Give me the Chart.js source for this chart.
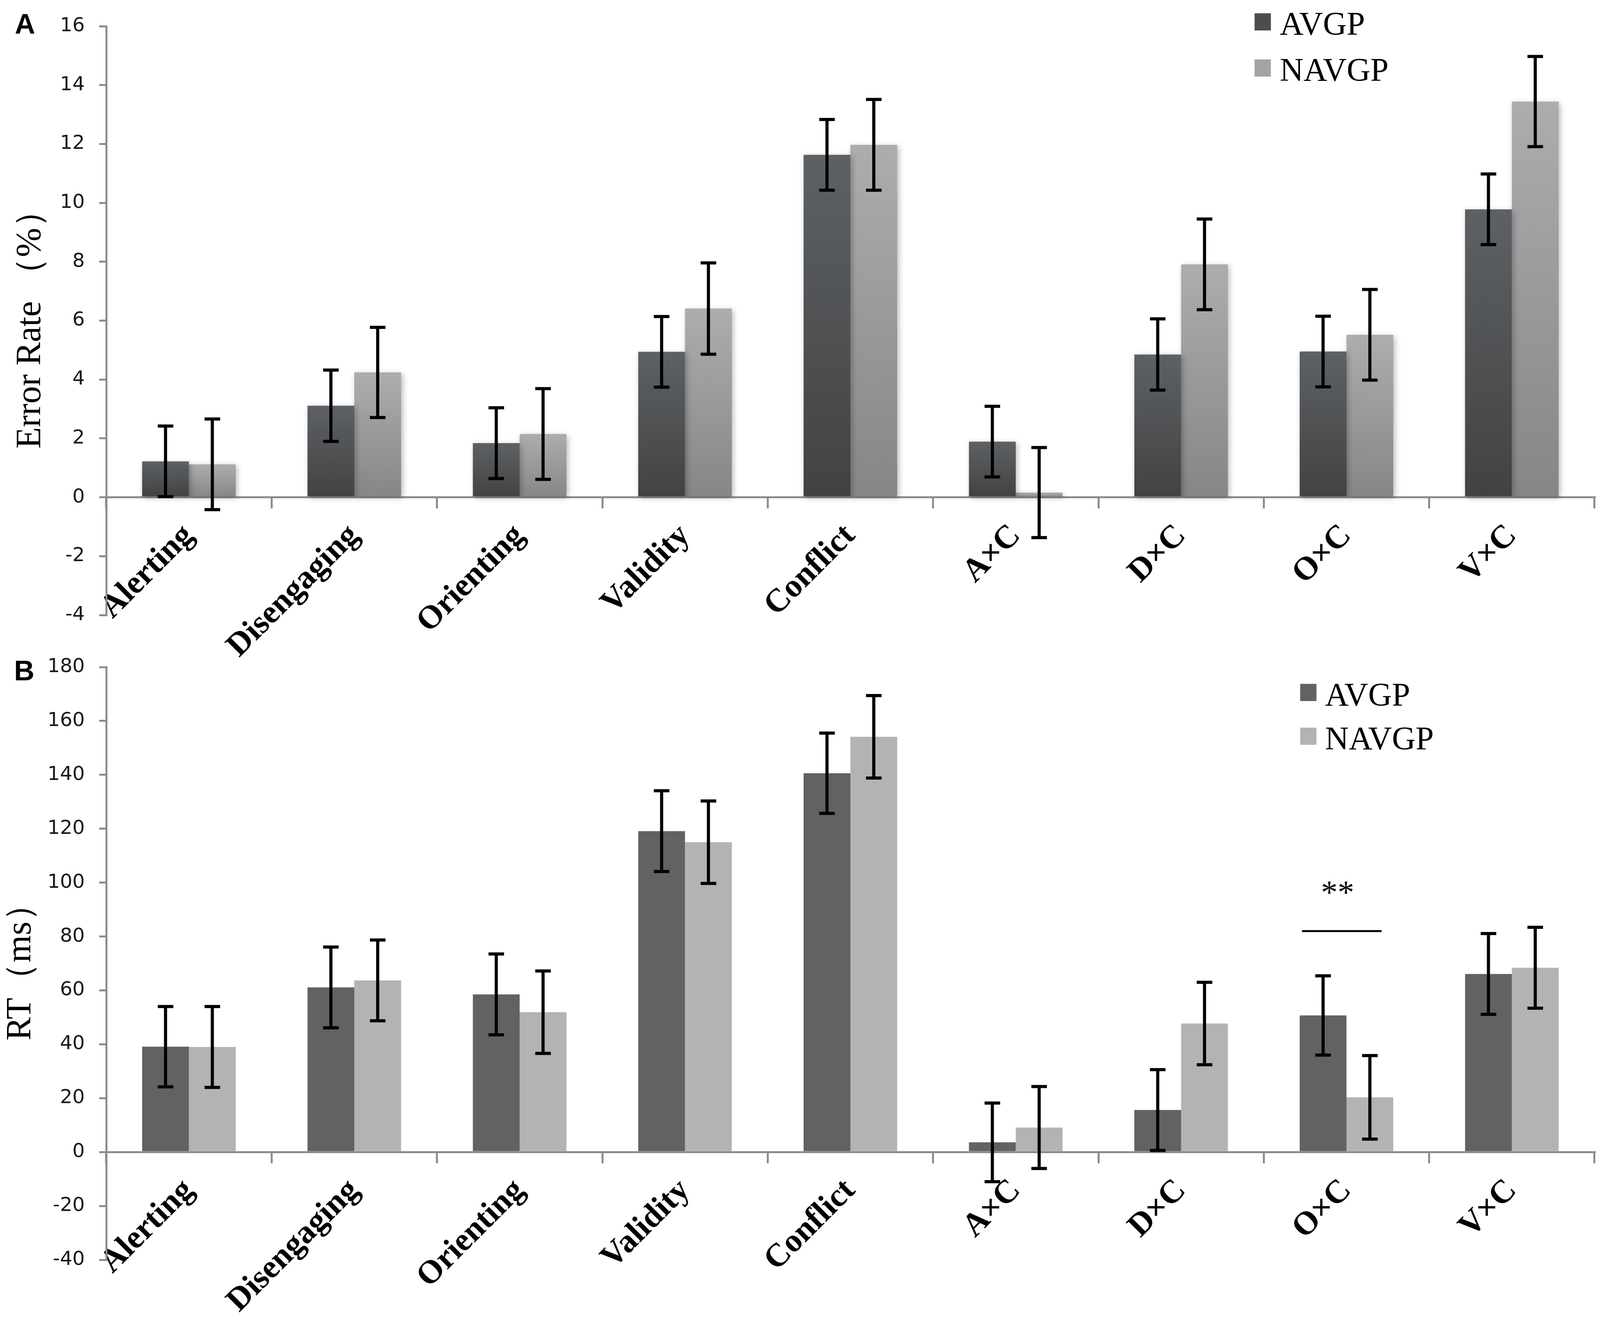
<!DOCTYPE html>
<html>
<head>
<meta charset="utf-8">
<script src="https://cdn.jsdelivr.net/npm/chart.js@4.4.1/dist/chart.umd.min.js"></script>
<style>
html, body { margin: 0; padding: 0; background: #fff; overflow: hidden; }
canvas { position: absolute; left: 0; }
#errChart { top: 0; }
#rtChart { top: 1640px; }
</style>
</head>
<body>
<canvas id="errChart"></canvas>
<canvas id="rtChart"></canvas>
<script>
// data
var categories = ['Alerting', 'Disengaging', 'Orienting', 'Validity', 'Conflict', 'A×C', 'D×C', 'O×C', 'V×C'];
var groups = ['AVGP', 'NAVGP'];

// panel A: error rate (%)
var errAvgp = [1.22, 3.11, 1.84, 4.94, 11.63, 1.89, 4.85, 4.95, 9.78];
var errAvgpSe = [1.2, 1.21, 1.2, 1.2, 1.2, 1.2, 1.21, 1.2, 1.2];
var errNavgp = [1.12, 4.24, 2.15, 6.41, 11.97, 0.16, 7.91, 5.52, 13.44];
var errNavgpSe = [1.54, 1.53, 1.54, 1.55, 1.54, 1.53, 1.54, 1.54, 1.53];
var errTicks = [-4, -2, 0, 2, 4, 6, 8, 10, 12, 14, 16];

// panel B: RT (ms)
var rtAvgp = [39.1, 61.1, 58.5, 119.1, 140.6, 3.6, 15.6, 50.7, 66.1];
var rtAvgpSe = [14.9, 15.0, 15.0, 15.0, 14.9, 14.6, 15.0, 14.7, 15.0];
var rtNavgp = [39.0, 63.7, 51.9, 115.0, 154.1, 9.1, 47.7, 20.3, 68.4];
var rtNavgpSe = [15.0, 15.0, 15.3, 15.3, 15.3, 15.2, 15.3, 15.5, 15.0];
var rtTicks = [-40, -20, 0, 20, 40, 60, 80, 100, 120, 140, 160, 180];

// significance mark in panel B
var sigCategory = 'O×C';
var sigLabel = '**';
var sigStarValue = 98;
var sigLineValue = 82;

var AXIS_GREY = '#8c8c8c';

// the figure was laid out 4317 wide; follow whatever width the window really has
var W = window.innerWidth || 4317;
var sx = W / 4317;

var c1 = document.getElementById('errChart');
var c2 = document.getElementById('rtChart');
c1.width = W; c1.height = 1760;
c2.width = W; c2.height = 1761;
c1.style.width = W + 'px'; c1.style.height = '1760px';
c2.style.width = W + 'px'; c2.style.height = '1761px';

Chart.defaults.font.family = 'DejaVu Sans';
Chart.defaults.color = '#222';

function barGradient(topColor, bottomColor) {
    return function (ctx) {
        var chart = ctx.chart;
        if (ctx.type !== 'data' || !chart.chartArea) return bottomColor;
        var y = chart.scales.y;
        var top = y.getPixelForValue(ctx.raw);
        var base = y.getPixelForValue(0);
        if (!isFinite(top) || Math.abs(top - base) < 1) return bottomColor;
        var g = chart.ctx.createLinearGradient(0, top, 0, base);
        g.addColorStop(0, topColor);
        g.addColorStop(1, bottomColor);
        return g;
    };
}

// soft drop shadow under the bars (panel A only)
var barShadow = {
    id: 'barShadow',
    beforeDatasetsDraw: function (chart, args, opts) {
        if (!opts.on) return;
        var c = chart.ctx;
        c.save();
        c.shadowColor = 'rgba(0,0,0,0.28)';
        c.shadowBlur = 14;
        c.shadowOffsetX = 4;
        c.shadowOffsetY = 4;
    },
    afterDatasetsDraw: function (chart, args, opts) {
        if (opts.on) chart.ctx.restore();
    }
};

var errorBars = {
    id: 'errorBars',
    afterDatasetsDraw: function (chart) {
        var c = chart.ctx;
        var y = chart.scales.y;
        var cap = 21 * sx;
        c.save();
        c.strokeStyle = '#000';
        c.lineWidth = 8;
        c.lineCap = 'butt';
        chart.data.datasets.forEach(function (ds, i) {
            var meta = chart.getDatasetMeta(i);
            meta.data.forEach(function (bar, j) {
                var v = ds.data[j], e = ds.errors[j];
                var yt = y.getPixelForValue(v + e);
                var yb = y.getPixelForValue(v - e);
                c.beginPath();
                c.moveTo(bar.x, yt);
                c.lineTo(bar.x, yb);
                c.moveTo(bar.x - cap, yt);
                c.lineTo(bar.x + cap, yt);
                c.moveTo(bar.x - cap, yb);
                c.lineTo(bar.x + cap, yb);
                c.stroke();
            });
        });
        c.restore();
    }
};

var boxLegend = {
    id: 'boxLegend',
    afterDraw: function (chart, args, opts) {
        var c = chart.ctx;
        c.save();
        c.font = opts.fontSize + 'px "Liberation Serif"';
        c.textBaseline = 'alphabetic';
        c.textAlign = 'left';
        chart.data.datasets.forEach(function (ds, i) {
            var top = opts.y + i * opts.rowGap;
            c.fillStyle = opts.colors[i];
            c.fillRect(opts.x * sx, top, opts.size * sx, opts.size);
            c.fillStyle = '#000';
            c.fillText(ds.label, opts.textX * sx, top + opts.baseline);
        });
        c.restore();
    }
};

var panelLetter = {
    id: 'panelLetter',
    afterDraw: function (chart, args, opts) {
        var c = chart.ctx;
        c.save();
        c.font = 'bold 72px "Liberation Sans"';
        c.fillStyle = '#000';
        c.textBaseline = 'alphabetic';
        c.fillText(opts.text, opts.x * sx, opts.y);
        c.restore();
    }
};

var significance = {
    id: 'significance',
    afterDraw: function (chart, args, opts) {
        if (!opts.on) return;
        var idx = chart.data.labels.indexOf(sigCategory);
        var a = chart.getDatasetMeta(0).data[idx];
        var b = chart.getDatasetMeta(1).data[idx];
        var y = chart.scales.y;
        var c = chart.ctx;
        c.save();
        var ly = y.getPixelForValue(sigLineValue);
        c.strokeStyle = '#000';
        c.lineWidth = 5;
        c.beginPath();
        c.moveTo(a.x - a.width * 0.45, ly);
        c.lineTo(b.x + b.width * 0.25, ly);
        c.stroke();
        c.font = '85px "Liberation Serif"';
        c.fillStyle = '#000';
        c.textAlign = 'center';
        c.textBaseline = 'alphabetic';
        c.fillText(sigLabel, (a.x + b.x) / 2 - 24 * sx, y.getPixelForValue(sigStarValue) + 40);
        c.restore();
    }
};

function makeChart(canvas, cfg) {
    return new Chart(canvas, {
        type: 'bar',
        data: {
            labels: categories,
            datasets: [{
                label: groups[0],
                data: cfg.avgp,
                errors: cfg.avgpSe,
                backgroundColor: cfg.colors[0],
                borderWidth: 0,
                categoryPercentage: 0.566,
                barPercentage: 1.0
            }, {
                label: groups[1],
                data: cfg.navgp,
                errors: cfg.navgpSe,
                backgroundColor: cfg.colors[1],
                borderWidth: 0,
                categoryPercentage: 0.566,
                barPercentage: 1.0
            }]
        },
        options: {
            responsive: false,
            animation: false,
            devicePixelRatio: 1,
            layout: { padding: cfg.padding },
            plugins: {
                legend: { display: false },
                tooltip: { enabled: false },
                barShadow: { on: cfg.shadow },
                boxLegend: cfg.legend,
                panelLetter: cfg.letter,
                significance: { on: cfg.sig }
            },
            scales: {
                x: {
                    position: { y: 0 },
                    offset: true,
                    grid: {
                        offset: true,
                        drawOnChartArea: false,
                        drawTicks: true,
                        tickLength: 26,
                        color: AXIS_GREY,
                        lineWidth: 5
                    },
                    border: { color: AXIS_GREY, width: 5 },
                    ticks: {
                        autoSkip: false,
                        minRotation: 45,
                        maxRotation: 45,
                        padding: 24,
                        color: '#000',
                        font: { family: 'Liberation Serif', weight: 'bold', size: 84 }
                    }
                },
                y: {
                    min: cfg.ticks[0],
                    max: cfg.ticks[cfg.ticks.length - 1],
                    afterBuildTicks: function (scale) {
                        scale.ticks = cfg.ticks.map(function (v) { return { value: v }; });
                    },
                    afterFit: function (scale) { scale.width = Math.round(287 * sx); },
                    grid: {
                        drawOnChartArea: false,
                        tickLength: 18,
                        color: AXIS_GREY,
                        lineWidth: 5
                    },
                    border: { color: AXIS_GREY, width: 5 },
                    ticks: {
                        padding: 37,
                        color: '#1a1a1a',
                        font: { family: 'DejaVu Sans', size: 50 }
                    },
                    title: {
                        display: true,
                        text: cfg.title,
                        color: '#000',
                        font: { family: 'Liberation Serif', size: 90 },
                        padding: { top: cfg.titlePad, bottom: 0 }
                    }
                }
            }
        },
        plugins: [barShadow, errorBars, boxLegend, panelLetter, significance]
    });
}

makeChart(c1, {
    avgp: errAvgp, avgpSe: errAvgpSe,
    navgp: errNavgp, navgpSe: errNavgpSe,
    ticks: errTicks,
    title: 'Error Rate （%）',
    titlePad: Math.max(0, Math.round(83 * sx - 54)),
    colors: [barGradient('#5d6165', '#424242'), barGradient('#adadad', '#868686')],
    shadow: true,
    sig: false,
    padding: { top: 32, bottom: 186, left: 0, right: Math.round(15 * sx) },
    legend: { x: 3385, y: 34, rowGap: 118, size: 44, textX: 3453, baseline: 55, fontSize: 84,
              colors: ['#4c4d4f', '#a4a4a4'] },
    letter: { text: 'A', x: 40, y: 86 }
});

makeChart(c2, {
    avgp: rtAvgp, avgpSe: rtAvgpSe,
    navgp: rtNavgp, navgpSe: rtNavgpSe,
    ticks: rtTicks,
    title: 'RT（ms）',
    titlePad: 0,
    colors: ['#626262', '#b3b3b3'],
    shadow: false,
    sig: true,
    padding: { top: 66, bottom: 177, left: 0, right: Math.round(15 * sx) },
    legend: { x: 3508, y: 110, rowGap: 112, size: 44, textX: 3575, baseline: 56, fontSize: 84,
              colors: ['#626262', '#b3b3b3'] },
    letter: { text: 'B', x: 38, y: 101 }
});
</script>
</body>
</html>
